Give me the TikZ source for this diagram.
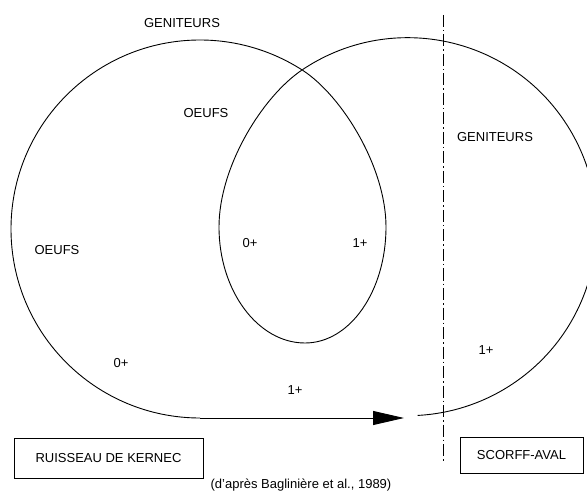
\documentclass[tikz,border=0pt]{standalone}
\usepackage{fontspec}
\setmainfont{Liberation Sans}
\usetikzlibrary{positioning,arrows.meta}

\tikzset{
  lbl/.style={font=\fontsize{13}{15}\selectfont, inner sep=0pt},
  placebox/.style={draw, line width=0.9pt, font=\fontsize{13}{15}\selectfont},
  cycle/.style={line width=0.9pt},
  limit/.style={line width=0.9pt, dash pattern=on 12pt off 3pt on 1.5pt off 3pt}
}

\begin{document}
\begin{tikzpicture}[x=1pt,y=1pt]
  \clip (0,0) rectangle (587,499);

  % points of the cycle
  \coordinate (cross) at (302,429);
  \coordinate (kstart) at (200,81);
  \coordinate (tip) at (404,81);

  % left circle, then the inner loop, then the right circle
  \draw[cycle] (kstart) arc (-90:-303:189)
    .. controls (342,403) and (386,332) .. (386,272)
    .. controls (386,208) and (350,156) .. (305,156)
    .. controls (258,156) and (219,208) .. (219,272)
    .. controls (219,332) and (262,402) .. (cross)
    arc (124:-87:189);

  % downstream run
  \draw[cycle,-{Triangle[length=31pt,width=14pt]}] (kstart) -- (tip);

  % boundary between the two places
  \coordinate (ltop) at (443,484);
  \coordinate (lbot) at (443,36);
  \draw[limit] (ltop) -- (lbot);

  \node[lbl] (gen1) at (182,476) {GENITEURS};
  \node[lbl] (oeuf1) at (206,386) {OEUFS};
  \node[lbl] (oeuf2) at (57,249) {OEUFS};
  \node[lbl] (a0in) at (250,256) {0+};
  \node[lbl] (a1in) at (360,256) {1+};
  \node[lbl] (gen2) at (495,362) {GENITEURS};
  \node[lbl] (a0out) at (121,136) {0+};
  \node[lbl] (a1out) at (295,109) {1+};
  \node[lbl] (a1sc) at (486,149) {1+};

  \node[placebox, minimum width=189pt, minimum height=40pt] (kernec) at (108.5,41) {RUISSEAU DE KERNEC};
  \node[placebox, minimum width=123pt, minimum height=36pt] (scorff) at (521.5,44) {SCORFF-AVAL};

  \node[lbl] (src) at (301,14) {(d'après Baglinière et al., 1989)};
\end{tikzpicture}
\end{document}
